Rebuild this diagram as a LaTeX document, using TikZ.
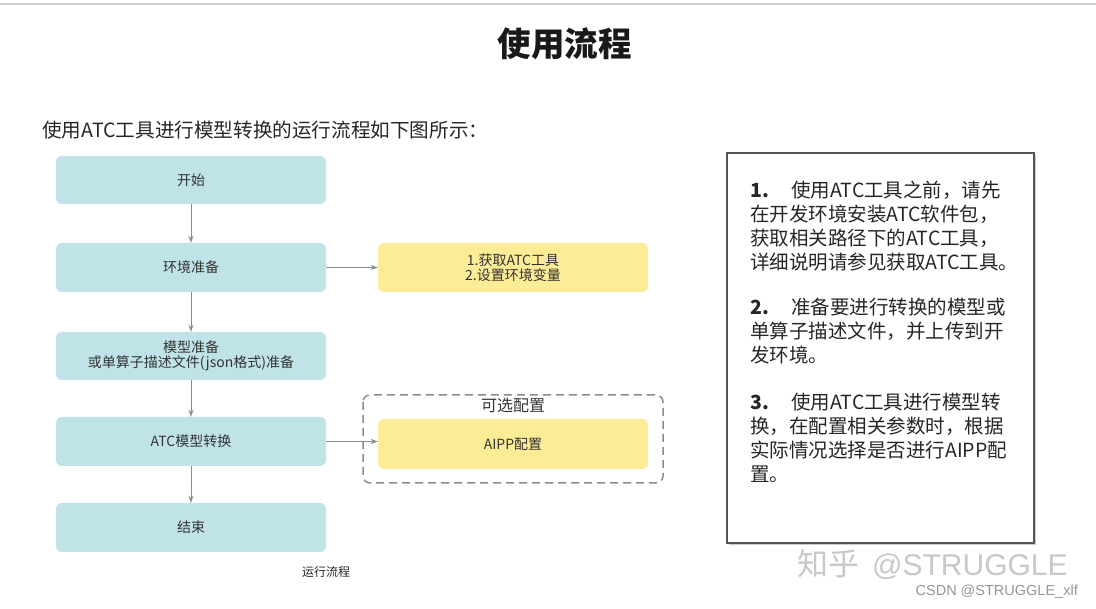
\documentclass[tikz,border=0pt]{standalone}
\usepackage{fontspec}
\setmainfont{Noto Sans CJK SC}
\newfontfamily\latinsans{Liberation Sans}
\usetikzlibrary{arrows.meta}
\definecolor{boxblue}{RGB}{191,227,231}
\definecolor{boxyellow}{RGB}{252,236,150}
\definecolor{textgray}{RGB}{51,51,51}
\definecolor{arrowgray}{RGB}{140,140,140}
\definecolor{dashgray}{RGB}{140,140,140}
\definecolor{framegray}{RGB}{85,85,85}
\definecolor{wmgray}{RGB}{200,200,200}
\definecolor{csdngray}{RGB}{150,150,150}
\tikzset{
  flowbox/.style={rounded corners=6pt, minimum width=270pt, inner sep=0pt, align=center,
    text=textgray, font=\fontsize{14}{15.5}\selectfont},
  bluebox/.style={flowbox, fill=boxblue},
  yellowbox/.style={flowbox, fill=boxyellow},
  flowarrow/.style={draw=arrowgray, line width=1pt, -{Stealth[length=7pt,width=5pt]}},
  paratext/.style={anchor=north west, inner sep=0pt, align=left, text=black!85,
    font=\fontsize{19.5}{24}\selectfont}
}
\begin{document}
\begin{tikzpicture}[x=1pt,y=-1pt]
\useasboundingbox (0,0) rectangle (1096,609);
\fill[white] (0,0) rectangle (1096,609);
% top rule
\draw[black!18, line width=1.5pt] (0,4) -- (1096,4);
% title
\node[font=\fontsize{33.5}{36}\selectfont\bfseries, text=black!90] (title) at (564.5,44) {使用流程};
\node[anchor=west, inner sep=0pt, font=\fontsize{19.6}{22}\selectfont, text=black!85] (intro) at (42,130) {使用ATC工具进行模型转换的运行流程如下图所示：};
% flow boxes
\node[bluebox, minimum height=48pt] (start) at (191,180) {开始};
\node[bluebox, minimum height=49pt] (env) at (191,267.5) {环境准备};
\node[bluebox, minimum height=48pt] (model) at (191,356) {模型准备\\或单算子描述文件(json格式)准备};
\node[bluebox, minimum height=49pt] (atc) at (191,441.5) {ATC模型转换};
\node[bluebox, minimum height=49pt] (finish) at (191,527.5) {结束};
\node[yellowbox, minimum height=49pt] (envsteps) at (513,267.5) {1.获取ATC工具\\2.设置环境变量};
\draw[dashgray, line width=1.5pt, dash pattern=on 8pt off 5pt, rounded corners=7pt] (363,395) rectangle (663,483);
\node[text=textgray, font=\fontsize{16}{18}\selectfont] (optlabel) at (513,405) {可选配置};
\node[yellowbox, minimum height=50pt] (aipp) at (513,444) {AIPP配置};
% arrows
\draw[flowarrow] (start) -- (env);
\draw[flowarrow] (env) -- (model);
\draw[flowarrow] (model) -- (atc);
\draw[flowarrow] (atc) -- (finish);
\draw[flowarrow] (env.east) -- (envsteps.west);
\draw[flowarrow] (atc.east) -- (atc.east -| aipp.west);
\node[font=\fontsize{12}{14}\selectfont, text=black!85] (caption) at (326,572) {运行流程};
% right text panel
\fill[black!20] (729,155) rectangle (1036,545);
\draw[framegray, fill=white, line width=1.5pt] (727,153) rectangle (1034,543);
\node[paratext] (p1) at (750,181) {\makebox[41pt][l]{\textbf{1.}}使用ATC工具之前，请先\\在开发环境安装ATC软件包，\\获取相关路径下的ATC工具，\\详细说明请参见获取ATC工具。};
\node[paratext] (p2) at (750,298) {\makebox[41pt][l]{\textbf{2.}}准备要进行转换的模型或\\单算子描述文件，并上传到开\\发环境。};
\node[paratext] (p3) at (750,393) {\makebox[41pt][l]{\textbf{3.}}使用ATC工具进行模型转\\换，在配置相关参数时，根据\\实际情况选择是否进行AIPP配\\置。};
% watermarks
\node[anchor=west, inner sep=0pt, text=wmgray, font=\fontsize{31}{33}\selectfont] (wm1) at (797,565) {知乎\hspace{13pt}{\latinsans\fontsize{30}{33}\selectfont @STRUGGLE}};
\node[anchor=east, inner sep=0pt, text=csdngray, font=\latinsans\fontsize{14.5}{16}\selectfont] (wm2) at (1078,592) {CSDN @STRUGGLE\_xlf};
\end{tikzpicture}
\end{document}
